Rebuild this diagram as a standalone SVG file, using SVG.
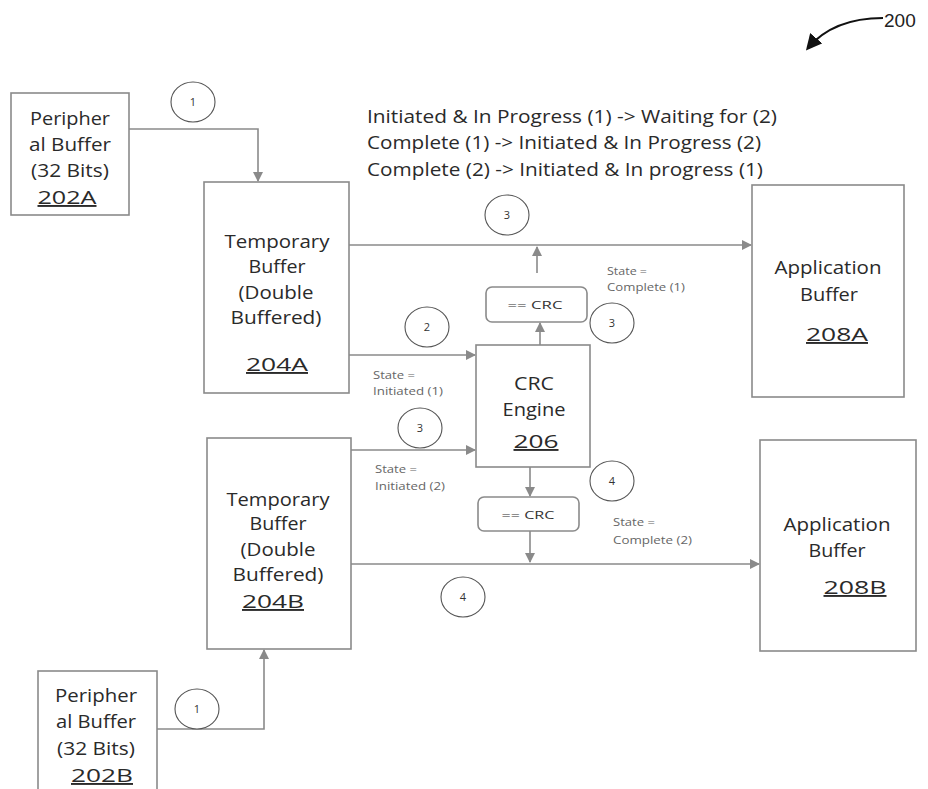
<svg xmlns="http://www.w3.org/2000/svg" width="928" height="789" viewBox="0 0 928 789">
<defs>
<marker id="ah" viewBox="0 0 10 10" refX="9" refY="5" markerWidth="10" markerHeight="10" markerUnits="userSpaceOnUse" orient="auto">
<path d="M0,0 L10,5 L0,10 Z" fill="#8a8a8a"/>
</marker>
<marker id="ahb" viewBox="0 0 10 10" refX="8" refY="5" markerWidth="16" markerHeight="16" markerUnits="userSpaceOnUse" orient="auto">
<path d="M0,0 L10,5 L0,10 Z" fill="#111"/>
</marker>
</defs>
<style>
.box{fill:#fff;stroke:#8a8a8a;stroke-width:1.6}
.t{font-family:"Open Sans","Noto Sans",sans-serif;font-size:19px;fill:#2a2a2a;text-anchor:middle}
.u{text-decoration:underline;text-decoration-thickness:2px}
.top{font-family:"Open Sans","Noto Sans",sans-serif;font-size:18.5px;fill:#2a2a2a}
.s{font-family:"Open Sans","Noto Sans",sans-serif;font-size:10px;fill:#666}
.c{fill:#fff;stroke:#555;stroke-width:1.1}
.n{font-family:"Open Sans","Noto Sans",sans-serif;font-size:11px;fill:#333;text-anchor:middle}
.ln{fill:none;stroke:#8a8a8a;stroke-width:1.6}
</style>
<rect width="928" height="789" fill="#fff"/>

<g id="connectors">
<path class="ln" d="M129,129 H258 V181" marker-end="url(#ah)"/>
<path class="ln" d="M157,729 H264 V650" marker-end="url(#ah)"/>
<path class="ln" d="M349,245 H751" marker-end="url(#ah)"/>
<path class="ln" d="M537,273 V247" marker-end="url(#ah)"/>
<path class="ln" d="M540,345 V323" marker-end="url(#ah)"/>
<path class="ln" d="M349,355 H475" marker-end="url(#ah)"/>
<path class="ln" d="M351,450 H475" marker-end="url(#ah)"/>
<path class="ln" d="M530,467 V496" marker-end="url(#ah)"/>
<path class="ln" d="M530,531 V562" marker-end="url(#ah)"/>
<path class="ln" d="M351,564 H759" marker-end="url(#ah)"/>
<path d="M883,18 C850,18 825,28 808,48" fill="none" stroke="#111" stroke-width="2.2" marker-end="url(#ahb)"/>
</g>

<g id="label-200"><text x="884" y="27" font-family="Liberation Sans,Arial,sans-serif" font-size="19" fill="#222">200</text></g>

<g id="state-text">
<text class="top" x="367" y="123" textLength="410" lengthAdjust="spacingAndGlyphs">Initiated &amp; In Progress (1) -&gt; Waiting for (2)</text>
<text class="top" x="367" y="149" textLength="394" lengthAdjust="spacingAndGlyphs">Complete (1) -&gt; Initiated &amp; In Progress (2)</text>
<text class="top" x="367" y="176" textLength="396" lengthAdjust="spacingAndGlyphs">Complete (2) -&gt; Initiated &amp; In progress (1)</text>
</g>

<g id="n202A">
<rect class="box" x="11" y="93" width="118" height="122"/>
<text class="t" x="70" y="125" textLength="80" lengthAdjust="spacingAndGlyphs">Peripher</text>
<text class="t" x="70" y="151" textLength="82" lengthAdjust="spacingAndGlyphs">al Buffer</text>
<text class="t" x="70" y="177" textLength="78" lengthAdjust="spacingAndGlyphs">(32 Bits)</text>
<text class="t u" x="67" y="204" textLength="59" lengthAdjust="spacingAndGlyphs">202A</text>
</g>

<g id="n202B">
<rect class="box" x="38" y="671" width="119" height="125"/>
<text class="t" x="96" y="702" textLength="82" lengthAdjust="spacingAndGlyphs">Peripher</text>
<text class="t" x="96" y="728" textLength="80" lengthAdjust="spacingAndGlyphs">al Buffer</text>
<text class="t" x="96" y="755" textLength="78" lengthAdjust="spacingAndGlyphs">(32 Bits)</text>
<text class="t u" x="102" y="782" textLength="62" lengthAdjust="spacingAndGlyphs">202B</text>
</g>

<g id="n204A">
<rect class="box" x="204" y="182" width="145" height="211"/>
<text class="t" x="277" y="248" textLength="105" lengthAdjust="spacingAndGlyphs">Temporary</text>
<text class="t" x="277" y="273" textLength="57" lengthAdjust="spacingAndGlyphs">Buffer</text>
<text class="t" x="276" y="299" textLength="75" lengthAdjust="spacingAndGlyphs">(Double</text>
<text class="t" x="276" y="324" textLength="91" lengthAdjust="spacingAndGlyphs">Buffered)</text>
<text class="t u" x="277" y="371" textLength="62" lengthAdjust="spacingAndGlyphs">204A</text>
</g>

<g id="n204B">
<rect class="box" x="207" y="438" width="144" height="211"/>
<text class="t" x="278" y="506" textLength="103" lengthAdjust="spacingAndGlyphs">Temporary</text>
<text class="t" x="278" y="530" textLength="57" lengthAdjust="spacingAndGlyphs">Buffer</text>
<text class="t" x="278" y="556" textLength="75" lengthAdjust="spacingAndGlyphs">(Double</text>
<text class="t" x="278" y="581" textLength="91" lengthAdjust="spacingAndGlyphs">Buffered)</text>
<text class="t u" x="273" y="608" textLength="62" lengthAdjust="spacingAndGlyphs">204B</text>
</g>

<g id="n206">
<rect class="box" x="476" y="345" width="114" height="122"/>
<text class="t" x="534" y="390" textLength="40" lengthAdjust="spacingAndGlyphs">CRC</text>
<text class="t" x="534" y="416" textLength="63" lengthAdjust="spacingAndGlyphs">Engine</text>
<text class="t u" x="536" y="448" textLength="45" lengthAdjust="spacingAndGlyphs">206</text>
</g>

<g id="crc-check-1">
<rect class="box" x="486" y="287" width="101" height="35" rx="6"/>
<text class="n" x="535" y="309" font-size="13" textLength="55" lengthAdjust="spacingAndGlyphs">== CRC</text>
</g>

<g id="crc-check-2">
<rect class="box" x="478" y="497" width="101" height="34" rx="6"/>
<text class="n" x="528" y="519" font-size="13" textLength="53" lengthAdjust="spacingAndGlyphs">== CRC</text>
</g>

<g id="n208A">
<rect class="box" x="752" y="185" width="152" height="212"/>
<text class="t" x="828" y="274" textLength="107" lengthAdjust="spacingAndGlyphs">Application</text>
<text class="t" x="829" y="301" textLength="58" lengthAdjust="spacingAndGlyphs">Buffer</text>
<text class="t u" x="837" y="341" textLength="62" lengthAdjust="spacingAndGlyphs">208A</text>
</g>

<g id="n208B">
<rect class="box" x="760" y="440" width="156" height="211"/>
<text class="t" x="837" y="531" textLength="107" lengthAdjust="spacingAndGlyphs">Application</text>
<text class="t" x="837" y="557" textLength="57" lengthAdjust="spacingAndGlyphs">Buffer</text>
<text class="t u" x="855" y="594" textLength="63" lengthAdjust="spacingAndGlyphs">208B</text>
</g>

<g id="state-labels">
<text class="s" x="607" y="275" textLength="40" lengthAdjust="spacingAndGlyphs">State =</text>
<text class="s" x="607" y="291" textLength="78" lengthAdjust="spacingAndGlyphs">Complete (1)</text>
<text class="s" x="373" y="379" textLength="42" lengthAdjust="spacingAndGlyphs">State =</text>
<text class="s" x="373" y="395" textLength="70" lengthAdjust="spacingAndGlyphs">Initiated (1)</text>
<text class="s" x="375" y="473" textLength="42" lengthAdjust="spacingAndGlyphs">State =</text>
<text class="s" x="375" y="490" textLength="70" lengthAdjust="spacingAndGlyphs">Initiated (2)</text>
<text class="s" x="613" y="526" textLength="42" lengthAdjust="spacingAndGlyphs">State =</text>
<text class="s" x="613" y="544" textLength="79" lengthAdjust="spacingAndGlyphs">Complete (2)</text>
</g>

<g id="step-markers">
<ellipse class="c" cx="193" cy="102" rx="22" ry="20"/><text class="n" x="193" y="106">1</text>
<ellipse class="c" cx="197" cy="709" rx="22" ry="20"/><text class="n" x="197" y="713">1</text>
<ellipse class="c" cx="507" cy="215" rx="22" ry="20"/><text class="n" x="507" y="219">3</text>
<ellipse class="c" cx="427" cy="327" rx="22" ry="20"/><text class="n" x="427" y="331">2</text>
<ellipse class="c" cx="612" cy="323" rx="22" ry="20"/><text class="n" x="612" y="327">3</text>
<ellipse class="c" cx="420" cy="428" rx="22" ry="20"/><text class="n" x="420" y="432">3</text>
<ellipse class="c" cx="612" cy="481" rx="22" ry="20"/><text class="n" x="612" y="485">4</text>
<ellipse class="c" cx="463" cy="597" rx="22" ry="20"/><text class="n" x="463" y="601">4</text>
</g>
</svg>
